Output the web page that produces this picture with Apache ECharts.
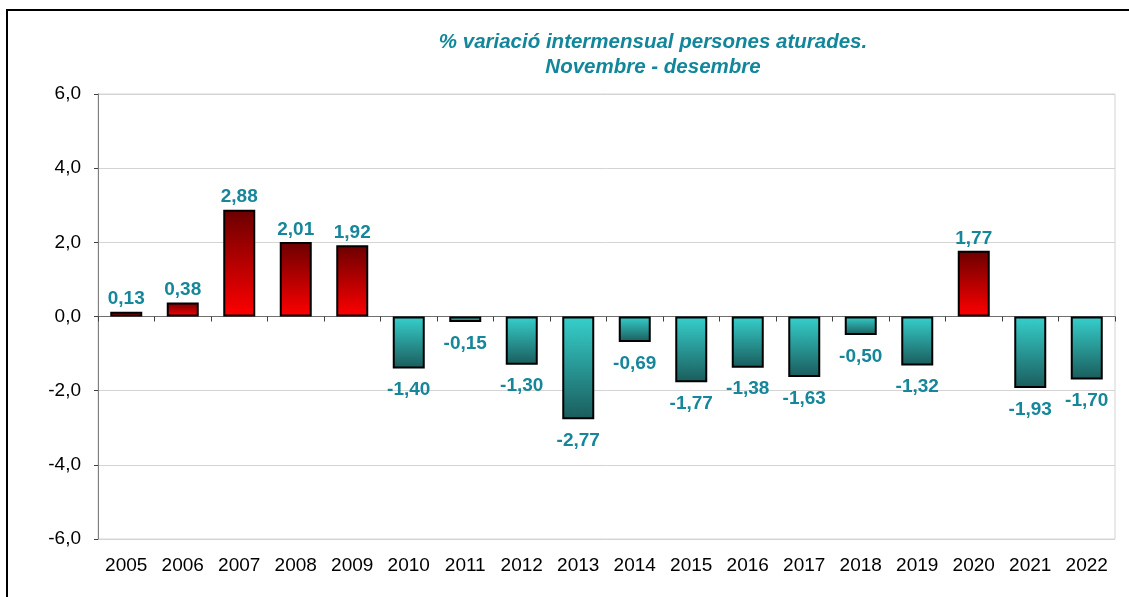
<!DOCTYPE html>
<html>
<head>
<meta charset="utf-8">
<title>% variació intermensual persones aturades</title>
<script src="https://cdn.jsdelivr.net/npm/echarts@6/dist/echarts.min.js"></script>
<style>
  html, body { margin: 0; padding: 0; background: #fff; }
  #chart { width: 1129px; height: 597px; }
</style>
</head>
<body>
<div id="chart"></div>
<script>
// Dades: variació novembre - desembre
const years = ['2005', '2006', '2007', '2008', '2009', '2010', '2011', '2012', '2013',
               '2014', '2015', '2016', '2017', '2018', '2019', '2020', '2021', '2022'];
const variacio = [0.13, 0.38, 2.88, 2.01, 1.92, -1.40, -0.15, -1.30, -2.77,
                  -0.69, -1.77, -1.38, -1.63, -0.50, -1.32, 1.77, -1.93, -1.70];
const yTicks = { min: -6, max: 6, interval: 2 };

const chart = echarts.init(document.getElementById('chart'), null, { renderer: 'canvas' });

// Degradats de les barres (positiu vermell, negatiu turquesa)
const redGrad = new echarts.graphic.LinearGradient(0, 0, 0, 1, [
    { offset: 0, color: '#6b0000' },
    { offset: 1, color: '#ff0000' }
]);
const tealGrad = new echarts.graphic.LinearGradient(0, 0, 0, 1, [
    { offset: 0, color: '#36d0cc' },
    { offset: 1, color: '#1a5c5c' }
]);

const fmt = (v, d) => v.toFixed(d).replace('.', ',');

const barData = variacio.map(v => ({
    value: v,
    itemStyle: { color: v >= 0 ? redGrad : tealGrad },
    label: { position: v >= 0 ? 'top' : 'bottom', distance: v >= 0 ? 3 : 12 }
}));

const option = {
    animation: false,
    backgroundColor: '#fff',
    textStyle: { fontFamily: 'Arial, "Liberation Sans", sans-serif' },
    title: {
        text: '% variació intermensual persones aturades.\nNovembre - desembre',
        left: 648,
        top: 25,
        textAlign: 'center',
        textStyle: {
            color: '#12879b',
            fontSize: 20.5,
            fontWeight: 'bold',
            fontStyle: 'italic',
            lineHeight: 25,
            fontFamily: 'Arial, "Liberation Sans", sans-serif'
        }
    },
    graphic: [{
        type: 'rect',
        shape: { x: 7, y: 10, width: 1140, height: 610 },
        style: { fill: 'none', stroke: '#000', lineWidth: 2 },
        silent: true,
        z: 100
    }],
    grid: {
        left: 98, right: 14, top: 94, bottom: 58,
        show: true,
        borderColor: '#d4d4d4',
        borderWidth: 1
    },
    xAxis: [
        {
            // etiquetes a la part inferior
            type: 'category',
            data: years,
            position: 'bottom',
            axisLine: { show: false, onZero: false },
            axisTick: { show: false },
            axisLabel: { color: '#000', fontSize: 19, margin: 17 }
        },
        {
            // eix sobre el zero amb marques
            type: 'category',
            data: years,
            position: 'top',
            axisLine: { onZero: true, lineStyle: { color: '#6f6f6f', width: 1 } },
            axisTick: { show: true, inside: true, length: 5, lineStyle: { color: '#404040' } },
            axisLabel: { show: false }
        }
    ],
    yAxis: {
        type: 'value',
        min: yTicks.min,
        max: yTicks.max,
        interval: yTicks.interval,
        axisLine: { show: true, lineStyle: { color: '#7f7f7f' } },
        axisTick: { show: true, length: 4, lineStyle: { color: '#404040' } },
        axisLabel: { color: '#000', fontSize: 19, margin: 17, formatter: v => fmt(v, 1) },
        splitLine: { lineStyle: { color: '#d4d4d4', width: 1 } }
    },
    series: [{
        type: 'bar',
        xAxisIndex: 0,
        data: barData,
        barWidth: 32,
        itemStyle: { borderColor: '#000', borderWidth: 2 },
        label: {
            show: true,
            color: '#16869b',
            fontSize: 19,
            fontWeight: 'bold',
            formatter: p => fmt(p.value, 2)
        }
    }]
};

chart.setOption(option);
</script>
</body>
</html>
